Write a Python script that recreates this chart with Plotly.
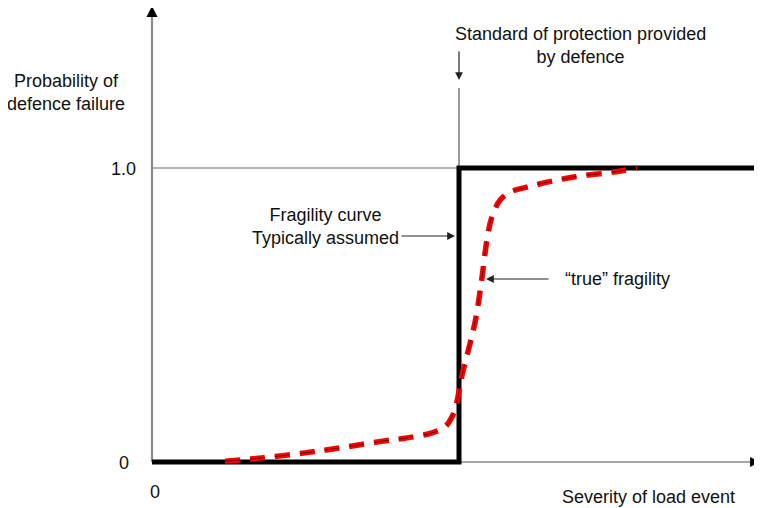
import plotly.graph_objects as go

PAGE_OFF = 8               # default body margin of the page
W, H = 762 - PAGE_OFF, 508 - PAGE_OFF
X0PX, Y0PX = 152, 462      # page pixel of origin
XS, YS = 307.0, 294.0      # pixels per unit

def dx(px):
    return (px - X0PX) / XS

def dy(py):
    return (Y0PX - py) / YS

# Typically assumed fragility curve (step at standard of protection = 1)
step_x = [0.0, 1.0, 1.0, 2.0]
step_y = [0.0, 0.0, 1.0, 1.0]

# "true" fragility
true_x = [0.238, 0.358, 0.498, 0.612, 0.752, 0.831, 0.912, 0.954, 0.977, 0.993,
          1.010, 1.033, 1.055, 1.075, 1.091, 1.107, 1.134, 1.166, 1.221, 1.306,
          1.394, 1.502, 1.580]
true_y = [0.003, 0.014, 0.031, 0.048, 0.071, 0.082, 0.099, 0.119, 0.153, 0.204,
          0.296, 0.391, 0.490, 0.629, 0.755, 0.833, 0.891, 0.918, 0.935, 0.956,
          0.973, 0.986, 1.0]

FONT = "Liberation Sans, Arial, sans-serif"
fig = go.Figure()

shapes = [
    dict(type="line", xref="x", yref="y", x0=0, x1=dx(770), y0=1, y1=1,
         line=dict(color="#9a9a9a", width=1.5), layer="below"),
    dict(type="line", xref="x", yref="y", x0=1, x1=1, y0=1, y1=dy(88),
         line=dict(color="#555", width=1.2), layer="below"),
    # axis lines (below the data)
    dict(type="line", xref="x", yref="y", x0=0, x1=0, y0=0, y1=dy(16),
         line=dict(color="#8a8a8a", width=2.2), layer="below"),
    dict(type="line", xref="x", yref="y", x0=0, x1=dx(752), y0=0, y1=0,
         line=dict(color="#8a8a8a", width=1.6), layer="below"),
]

fig.add_trace(go.Scatter(x=step_x, y=step_y, mode="lines",
                         line=dict(color="black", width=5),
                         hoverinfo="skip", showlegend=False))
DASH = "15px,10px"
fig.add_trace(go.Scatter(x=true_x, y=true_y, mode="lines",
                         line=dict(color="#ff0000", width=5.5, dash=DASH, shape="spline"),
                         hoverinfo="skip", showlegend=False))
fig.add_trace(go.Scatter(x=true_x, y=true_y, mode="lines",
                         line=dict(color="#400000", width=0.8, dash=DASH, shape="spline"),
                         hoverinfo="skip", showlegend=False))

ann = []
def arrow(x, y, axx, ayy, color="#333", width=1.2, head=2, size=1.2):
    ann.append(dict(x=x, y=y, ax=axx, ay=ayy, xref="x", yref="y", axref="x", ayref="y",
                    showarrow=True, arrowhead=head, arrowsize=size, arrowwidth=width,
                    arrowcolor=color, text=""))

# black arrowheads of the axes
arrow(dx(152), dy(6), dx(152), dy(17), color="#000", width=2.2, head=2, size=1.0)
arrow(dx(760), dy(462), dx(750), dy(462), color="#000", width=1.8, head=2, size=1.1)
arrow(dx(459), dy(80), dx(459), dy(50), color="#222", width=1.2, head=2, size=1.3)
arrow(dx(455), dy(236), dx(400), dy(236), color="#222", width=1.2, head=2, size=1.3)
arrow(dx(486), dy(279), dx(550), dy(279), color="#222", width=1.2, head=2, size=1.3)

def text(px, py, s, anchor="center"):
    ann.append(dict(x=dx(px), y=dy(py), xref="x", yref="y", text=s, showarrow=False,
                    xanchor=anchor, yanchor="middle", align=anchor if anchor != "center" else "center",
                    font=dict(family=FONT, size=18, color="#111")))

text(66, 92, "Probability of<br>defence failure")
text(580, 45, "Standard of protection provided<br>by defence")
text(325, 226, "Fragility curve<br>Typically assumed")
text(617, 279, "\u201ctrue\u201d fragility")
text(138, 169, "1.0", "right")
text(131, 463, "0", "right")
text(155, 492, "0")
text(648, 497, "Severity of load event")

fig.update_layout(
    width=W, height=H,
    margin=dict(l=0, r=0, t=0, b=0),
    paper_bgcolor="white", plot_bgcolor="white",
    xaxis=dict(range=[dx(PAGE_OFF), dx(PAGE_OFF + W)], visible=False, fixedrange=True),
    yaxis=dict(range=[dy(PAGE_OFF + H), dy(PAGE_OFF)], visible=False, fixedrange=True),
    shapes=shapes, annotations=ann, showlegend=False,
)

fig.write_html("out.html")
